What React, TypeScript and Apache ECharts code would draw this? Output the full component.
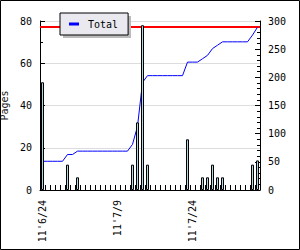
import React, { useEffect, useRef } from "react";
import * as echarts from "echarts";

// Categories: one per day, 2011-06-24 .. 2011-08-06
const days: string[] = [
  "11'6/24", "11'6/25", "11'6/26", "11'6/27", "11'6/28", "11'6/29", "11'6/30",
  "11'7/1", "11'7/2", "11'7/3", "11'7/4", "11'7/5", "11'7/6", "11'7/7", "11'7/8",
  "11'7/9", "11'7/10", "11'7/11", "11'7/12", "11'7/13", "11'7/14", "11'7/15",
  "11'7/16", "11'7/17", "11'7/18", "11'7/19", "11'7/20", "11'7/21", "11'7/22",
  "11'7/23", "11'7/24", "11'7/25", "11'7/26", "11'7/27", "11'7/28", "11'7/29",
  "11'7/30", "11'7/31", "11'8/1", "11'8/2", "11'8/3", "11'8/4", "11'8/5", "11'8/6",
];

// Pages read per day (left axis)
const pages: number[] = [
  51, 0, 0, 0, 0, 12, 0, 6, 0, 0, 0, 0, 0, 0, 0,
  0, 0, 0, 12, 32, 78, 12, 0, 0, 0, 0, 0, 0, 0,
  24, 0, 0, 6, 6, 12, 6, 6, 0, 0, 0, 0, 0, 12, 14,
];

// Running total (right axis)
const totals: number[] = [
  51, 51, 51, 51, 51, 63, 63, 69, 69, 69, 69, 69, 69, 69, 69,
  69, 69, 69, 81, 113, 191, 203, 203, 203, 203, 203, 203, 203, 203,
  227, 227, 227, 233, 239, 251, 257, 263, 263, 263, 263, 263, 263, 275, 289,
];

const leftTicks = { min: 0, max: 80, interval: 20 };
const rightTicks = { min: 0, max: 300, interval: 50 };

const FONT = "DejaVu Sans Mono";

export default function App() {
  const ref = useRef<HTMLDivElement>(null);

  useEffect(() => {
    if (!ref.current) return;
    const chart = echarts.init(ref.current, null, { renderer: "svg" });
    const txt = { fontFamily: FONT, fontSize: 10, color: "#000" };
    chart.setOption({
      animation: false,
      backgroundColor: "#fff",
      grid: {
        left: 40,
        right: 40,
        top: 21,
        bottom: 60,
        containLabel: false,
        outerBoundsMode: "none",
      },
      legend: {
        data: ["Total"],
        left: 60,
        top: 13,
        z: 10,
        padding: [5, 10, 5, 9],
        backgroundColor: "#ebe9f0",
        borderColor: "#000",
        borderWidth: 1,
        borderRadius: 0,
        icon: "rect",
        itemWidth: 10,
        itemHeight: 3,
        textStyle: { ...txt, lineHeight: 12, padding: [0, 0, 0, 4] },
      },
      xAxis: {
        type: "category",
        data: days,
        boundaryGap: true,
        axisLine: { show: true, lineStyle: { color: "#000", width: 1 } },
        axisTick: {
          show: true,
          inside: true,
          length: 5,
          interval: 0,
          lineStyle: { color: "#000" },
        },
        axisLabel: { ...txt, interval: 14, rotate: 90, margin: 10 },
        splitLine: { show: false },
      },
      yAxis: [
        {
          type: "value",
          position: "left",
          ...leftTicks,
          name: "Pages",
          nameLocation: "middle",
          nameGap: 30,
          nameTextStyle: { ...txt, color: "#222" },
          axisLine: { show: true, lineStyle: { color: "#000", width: 1 } },
          axisTick: { show: true, inside: true, length: 5, lineStyle: { color: "#000" } },
          minorTick: { show: true, splitNumber: 2, length: 3, lineStyle: { color: "#000" } },
          axisLabel: { ...txt, margin: 8 },
          splitLine: { show: true, lineStyle: { color: "#dddddd", width: 1 } },
        },
        {
          type: "value",
          position: "right",
          ...rightTicks,
          axisLine: { show: true, lineStyle: { color: "#000", width: 1 } },
          axisTick: { show: true, inside: true, length: 5, lineStyle: { color: "#000" } },
          minorTick: { show: true, splitNumber: 5, length: 3, lineStyle: { color: "#000" } },
          axisLabel: { ...txt, margin: 8 },
          splitLine: { show: false },
        },
      ],
      series: [
        {
          name: "Total",
          type: "line",
          yAxisIndex: 1,
          data: totals,
          z: 1,
          showSymbol: false,
          symbol: "none",
          color: "#0000ff",
          lineStyle: { color: "#0000ff", width: 1 },
          markLine: {
            z: 1,
            silent: true,
            symbol: ["none", "none"],
            label: { show: false },
            lineStyle: { color: "#ff0000", width: 2, type: "solid" },
            data: [{ type: "max" }],
          },
        },
        {
          name: "Pages",
          type: "bar",
          yAxisIndex: 0,
          z: 3,
          barWidth: 3,
          data: pages.map((v) => (v > 0 ? v : "-")),
          itemStyle: { color: "#add8e6", borderColor: "#000", borderWidth: 1 },
        },
      ],
      graphic: [
        {
          type: "rect",
          z: 9,
          shape: { x: 63, y: 16, width: 68, height: 22 },
          style: { fill: "#bbbbbb" },
        },
        {
          type: "rect",
          z: 20,
          shape: { x: 0.5, y: 0.5, width: 299, height: 249 },
          style: { fill: "none", stroke: "#000", lineWidth: 1 },
        },
      ],
    });
    return () => chart.dispose();
  }, []);

  return (
    <div
      ref={ref}
      style={{ position: "absolute", left: 0, top: 0, width: 300, height: 250 }}
    />
  );
}
